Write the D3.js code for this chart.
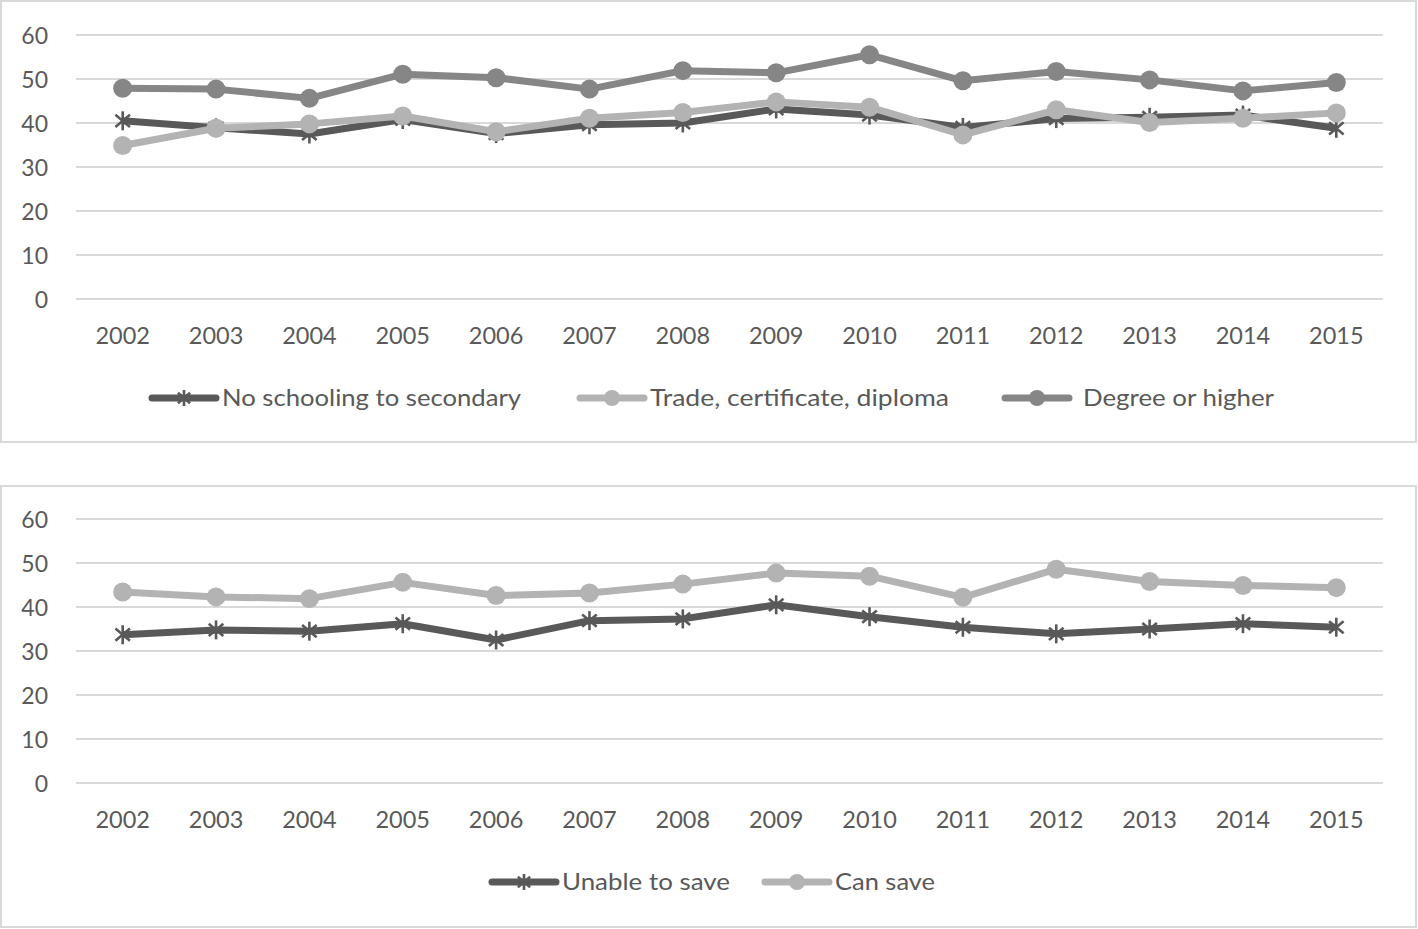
<!DOCTYPE html>
<html><head><meta charset="utf-8">
<script src="https://cdn.jsdelivr.net/npm/d3@7"></script>
<style>body{margin:0;background:#fff}svg{display:block}text{font-family:Lato,"Open Sans",sans-serif;fill:#595959}</style>
</head><body><svg id="c" width="1418" height="929"></svg>
<script>
const years = ["2002","2003","2004","2005","2006","2007","2008","2009","2010","2011","2012","2013","2014","2015"];
const yTicks = [0,10,20,30,40,50,60];
const noSchooling = [40.5,38.9,37.5,40.8,37.6,39.6,40.0,43.2,41.8,39.0,41.0,41.3,41.8,38.8];
const trade = [34.9,38.8,39.8,41.6,38.0,41.1,42.4,44.8,43.6,37.3,43.0,40.1,41.1,42.3];
const degree = [47.9,47.7,45.6,51.1,50.3,47.7,51.9,51.4,55.5,49.6,51.7,49.8,47.3,49.2];
const unable = [33.7,34.8,34.5,36.2,32.5,36.9,37.3,40.5,37.8,35.4,33.9,35.0,36.2,35.4];
const canSave = [43.4,42.3,41.9,45.6,42.6,43.2,45.2,47.7,47.0,42.2,48.6,45.8,44.9,44.4];

const panels = [
  {top:1, h:441, y0:299, series:[
    {name:"No schooling to secondary", data:noSchooling, color:"#595959", marker:"star", lx:152, tw:299},
    {name:"Trade, certificate, diploma", data:trade, color:"#b3b3b3", marker:"circle", lx:580, tw:299},
    {name:"Degree or higher", data:degree, color:"#868686", marker:"circle", lx:1005, tw:191, gap:8}
  ], ly:398, xl:336},
  {top:486, h:441, y0:783, series:[
    {name:"Unable to save", data:unable, color:"#595959", marker:"star", lx:492, tw:168},
    {name:"Can save", data:canSave, color:"#b3b3b3", marker:"circle", lx:765, tw:100}
  ], ly:882, xl:820}
];
const svg = d3.select("#c");
function star(g, x, y, color, r){
  r = r||9.5;
  for (const a of [90,40,140]) {
    const t=a*Math.PI/180;
    g.append("line").attr("x1",x-r*Math.cos(t)).attr("y1",y-r*Math.sin(t)).attr("x2",x+r*Math.cos(t)).attr("y2",y+r*Math.sin(t)).attr("stroke",color).attr("stroke-width",2.6);
  }
}
panels.forEach(p=>{
  svg.append("rect").attr("x",1).attr("y",p.top).attr("width",1415).attr("height",p.h).attr("fill","#fff").attr("stroke","#d9d9d9").attr("stroke-width",2);
  const x = d3.scaleBand().domain(years).range([76,1383]);
  const y = d3.scaleLinear().domain([0,60]).range([p.y0,p.y0-264]);
  const g = svg.append("g");
  g.selectAll(".grid").data(yTicks).join("line").attr("x1",76).attr("x2",1383).attr("y1",d=>y(d)).attr("y2",d=>y(d)).attr("stroke","#d9d9d9").attr("stroke-width",2);
  const ya = g.append("g").attr("transform","translate(48,0)").call(d3.axisLeft(y).tickValues(yTicks).tickSize(0).tickPadding(0));
  ya.select(".domain").remove();
  ya.selectAll("text").attr("font-size",23).attr("font-family","Lato, sans-serif").attr("fill","#595959").attr("dy","0.35em");
  const xa = g.append("g").attr("transform",`translate(0,${p.xl})`).call(d3.axisBottom(x).tickSize(0).tickPadding(0));
  xa.select(".domain").remove();
  xa.selectAll("text").attr("font-size",23.5).attr("font-family","Lato, sans-serif").attr("fill","#595959").attr("dy","0.35em");
  const cx = d=>x(d)+x.bandwidth()/2;
  p.series.forEach(s=>{
    const line = d3.line().x((d,i)=>cx(years[i])).y(d=>y(d));
    g.append("path").datum(s.data).attr("d",line).attr("fill","none").attr("stroke",s.color).attr("stroke-width",7).attr("stroke-linejoin","round");
    s.data.forEach((v,i)=>{
      if(s.marker==="circle") g.append("circle").attr("cx",cx(years[i])).attr("cy",y(v)).attr("r",9.5).attr("fill",s.color);
      else star(g,cx(years[i]),y(v),s.color);
    });
    const lg = svg.append("g");
    lg.append("line").attr("x1",s.lx).attr("x2",s.lx+64).attr("y1",p.ly).attr("y2",p.ly).attr("stroke",s.color).attr("stroke-width",7).attr("stroke-linecap","round");
    if(s.marker==="circle") lg.append("circle").attr("cx",s.lx+32).attr("cy",p.ly).attr("r",8).attr("fill",s.color);
    else star(lg,s.lx+32,p.ly,s.color,8);
    lg.append("text").attr("x",s.lx+70+(s.gap||0)).attr("y",p.ly).attr("dy","0.35em").attr("font-size",24).attr("textLength",s.tw).attr("lengthAdjust","spacingAndGlyphs").text(s.name);
  });
});
</script></body></html>
